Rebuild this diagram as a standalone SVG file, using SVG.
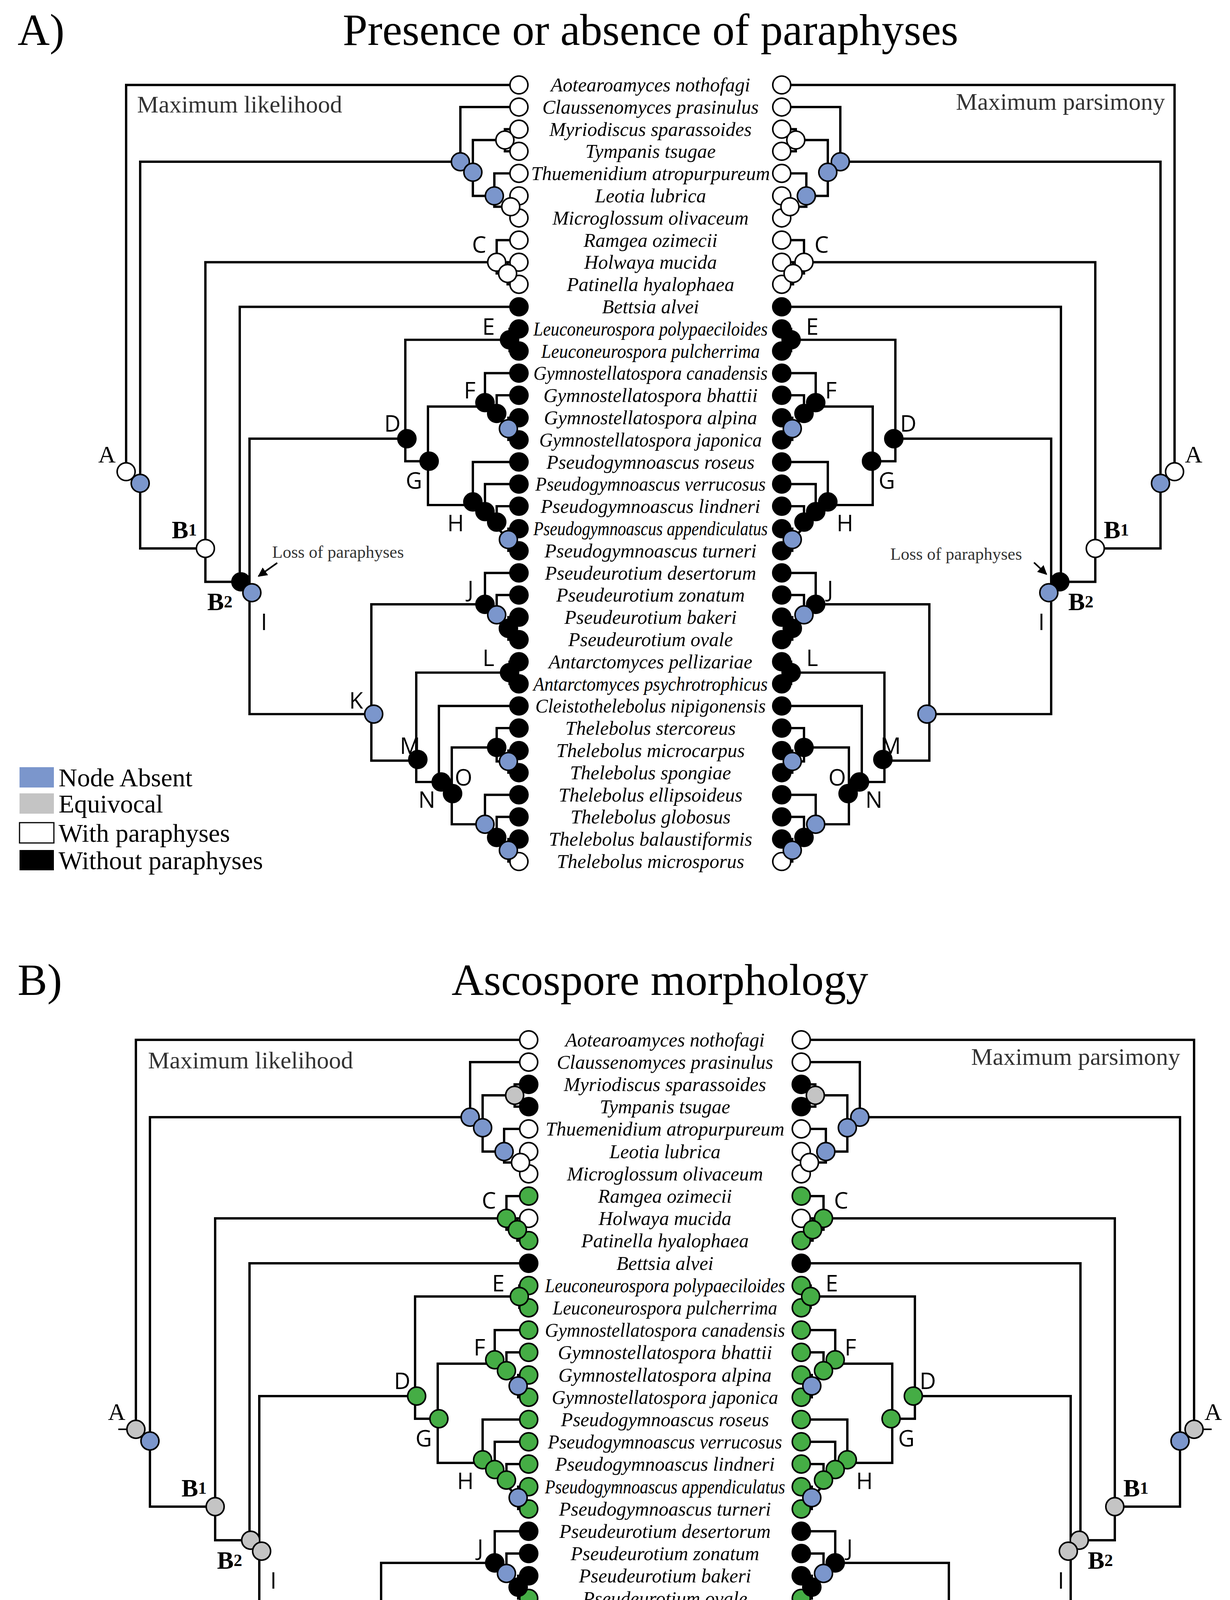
<svg xmlns="http://www.w3.org/2000/svg" width="3150" height="4743" viewBox="0 0 3150 4743">
<style>
.ln{fill:none;stroke:#000;stroke-width:6}
.c{stroke:#000;stroke-width:4}
.w{fill:#fff}.k{fill:#000}.b{fill:#7b96cc}.g{fill:#c4c4c4}.e{fill:#45ad45}
.tx{font-family:"Liberation Serif",serif;font-style:italic;font-size:50px;text-anchor:middle;dominant-baseline:central}
.lb{font-family:"Open Sans","DejaVu Sans",sans-serif;font-size:58px;text-anchor:middle;dominant-baseline:central}
.sr{font-family:"Liberation Serif",serif;font-size:62px;text-anchor:middle;dominant-baseline:central}
.bd{font-family:"Liberation Serif",serif;font-weight:bold;font-size:64px;text-anchor:middle;dominant-baseline:central}
.lg{font-family:"Liberation Serif",serif;font-size:66px;dominant-baseline:central}
.ttl{font-family:"Liberation Serif",serif;font-size:114px;dominant-baseline:central}
.mt{font-family:"Liberation Serif",serif;font-size:62px;dominant-baseline:central}
.lp{font-family:"Liberation Serif",serif;font-size:44px;dominant-baseline:central}
</style>
<defs>
<marker id="ar" viewBox="0 0 10 10" refX="9" refY="5" markerWidth="6" markerHeight="6" orient="auto"><path d="M0 0L10 5L0 10z" fill="#000"/></marker>
<g id="lines" class="ln">
<path d="M1354 2662H348V3659M384 3689V2860H1204M384 3689V3857H551M1204 2860V2719H1354M1204 2860L1236 2887M1236 2887V2804H1318M1354 2776H1318V2833H1354M1236 2887V2948H1291M1291 2948V2890H1354M1291 2948V2976H1333M1354 2948H1333V3005H1354"/>
<path d="M551 3857V3119H1297M1297 3119V3062H1354M1297 3119V3148H1325M1354 3119H1325V3176H1354M551 3857V3943H642M639 3943V3234H1354M642 3943L670 3971M664 3971V3574H1067M664 3971V4284H982"/>
<path d="M1063 3574V3319H1330M1354 3291H1330V3348H1354M1063 3574V3632H1124M1121 3632V3491H1267M1267 3481V3405H1354M1267 3481L1327 3548M1297 3509V3462H1354M1354 3520H1327V3577H1354"/>
<path d="M1121 3632V3745H1236M1236 3737V3634H1354M1236 3737L1327 3834M1267 3762V3691H1354M1297 3789V3748H1354M1354 3806H1327V3863H1354"/>
<path d="M976 4284V4001H1267M1267 4001V3920H1354M1267 4001L1327 4063M1297 4028V3977H1354M1354 4034H1327V4092H1354M976 4284V4404H1095M1091 4401V4177H1330M1354 4149H1330V4206H1354M1091 4401V4459H1155M1149 4459V4263H1354M1155 4459L1184 4489"/>
<path d="M1182 4489V4370H1297M1297 4370V4320H1354M1297 4370V4406H1327M1354 4378H1327V4435H1354M1182 4489V4568H1267M1267 4568V4492H1354M1267 4568L1327 4635M1297 4602V4549H1354M1354 4606H1327V4664H1354"/>
</g>
<g id="circA" class="c">
<circle class="w" cx="1354" cy="2662" r="23"/><circle class="w" cx="1354" cy="2719" r="23"/><circle class="w" cx="1354" cy="2776" r="23"/><circle class="w" cx="1354" cy="2833" r="23"/><circle class="w" cx="1354" cy="2890" r="23"/><circle class="w" cx="1354" cy="2948" r="23"/><circle class="w" cx="1354" cy="3005" r="23"/><circle class="w" cx="1354" cy="3062" r="23"/><circle class="w" cx="1354" cy="3119" r="23"/><circle class="w" cx="1354" cy="3176" r="23"/>
<circle class="k" cx="1354" cy="3234" r="23"/><circle class="k" cx="1354" cy="3291" r="23"/><circle class="k" cx="1354" cy="3348" r="23"/><circle class="k" cx="1354" cy="3405" r="23"/><circle class="k" cx="1354" cy="3462" r="23"/><circle class="k" cx="1354" cy="3520" r="23"/><circle class="k" cx="1354" cy="3577" r="23"/><circle class="k" cx="1354" cy="3634" r="23"/><circle class="k" cx="1354" cy="3691" r="23"/><circle class="k" cx="1354" cy="3748" r="23"/><circle class="k" cx="1354" cy="3806" r="23"/><circle class="k" cx="1354" cy="3863" r="23"/><circle class="k" cx="1354" cy="3920" r="23"/><circle class="k" cx="1354" cy="3977" r="23"/><circle class="k" cx="1354" cy="4034" r="23"/><circle class="k" cx="1354" cy="4092" r="23"/><circle class="k" cx="1354" cy="4149" r="23"/><circle class="k" cx="1354" cy="4206" r="23"/><circle class="k" cx="1354" cy="4263" r="23"/><circle class="k" cx="1354" cy="4320" r="23"/><circle class="k" cx="1354" cy="4378" r="23"/><circle class="k" cx="1354" cy="4435" r="23"/><circle class="k" cx="1354" cy="4492" r="23"/><circle class="k" cx="1354" cy="4549" r="23"/><circle class="k" cx="1354" cy="4606" r="23"/><circle class="w" cx="1354" cy="4664" r="23"/>
<circle class="w" cx="348" cy="3659" r="23"/><circle class="b" cx="384" cy="3689" r="23"/><circle class="b" cx="1204" cy="2860" r="23"/><circle class="b" cx="1236" cy="2887" r="23"/><circle class="w" cx="1318" cy="2804" r="23"/><circle class="b" cx="1291" cy="2948" r="23"/><circle class="w" cx="1333" cy="2976" r="23"/><circle class="w" cx="1297" cy="3119" r="23"/><circle class="w" cx="1325" cy="3148" r="23"/>
<circle class="w" cx="551" cy="3857" r="23"/><circle class="k" cx="642" cy="3943" r="23"/><circle class="b" cx="670" cy="3971" r="23"/><circle class="k" cx="1067" cy="3574" r="23"/><circle class="k" cx="1330" cy="3319" r="23"/><circle class="k" cx="1124" cy="3632" r="23"/><circle class="k" cx="1267" cy="3481" r="23"/><circle class="k" cx="1297" cy="3509" r="23"/><circle class="b" cx="1327" cy="3548" r="23"/>
<circle class="k" cx="1236" cy="3737" r="23"/><circle class="k" cx="1267" cy="3762" r="23"/><circle class="k" cx="1297" cy="3789" r="23"/><circle class="b" cx="1327" cy="3834" r="23"/><circle class="b" cx="982" cy="4284" r="23"/><circle class="k" cx="1267" cy="4001" r="23"/><circle class="b" cx="1297" cy="4028" r="23"/><circle class="k" cx="1327" cy="4063" r="23"/><circle class="k" cx="1330" cy="4177" r="23"/>
<circle class="k" cx="1095" cy="4401" r="23"/><circle class="k" cx="1155" cy="4459" r="23"/><circle class="k" cx="1184" cy="4489" r="23"/><circle class="k" cx="1297" cy="4370" r="23"/><circle class="b" cx="1327" cy="4406" r="23"/><circle class="b" cx="1267" cy="4568" r="23"/><circle class="k" cx="1297" cy="4602" r="23"/><circle class="b" cx="1327" cy="4635" r="23"/>
</g>
<g id="circB" class="c">
<circle class="w" cx="1354" cy="2662" r="23"/><circle class="w" cx="1354" cy="2719" r="23"/><circle class="k" cx="1354" cy="2776" r="23"/><circle class="k" cx="1354" cy="2833" r="23"/><circle class="w" cx="1354" cy="2890" r="23"/><circle class="w" cx="1354" cy="2948" r="23"/><circle class="w" cx="1354" cy="3005" r="23"/><circle class="e" cx="1354" cy="3062" r="23"/><circle class="w" cx="1354" cy="3119" r="23"/><circle class="e" cx="1354" cy="3176" r="23"/>
<circle class="k" cx="1354" cy="3234" r="23"/><circle class="e" cx="1354" cy="3291" r="23"/><circle class="e" cx="1354" cy="3348" r="23"/><circle class="e" cx="1354" cy="3405" r="23"/><circle class="e" cx="1354" cy="3462" r="23"/><circle class="e" cx="1354" cy="3520" r="23"/><circle class="e" cx="1354" cy="3577" r="23"/><circle class="e" cx="1354" cy="3634" r="23"/><circle class="e" cx="1354" cy="3691" r="23"/><circle class="e" cx="1354" cy="3748" r="23"/><circle class="e" cx="1354" cy="3806" r="23"/><circle class="e" cx="1354" cy="3863" r="23"/><circle class="k" cx="1354" cy="3920" r="23"/><circle class="k" cx="1354" cy="3977" r="23"/><circle class="k" cx="1354" cy="4034" r="23"/><circle class="e" cx="1354" cy="4092" r="23"/><circle class="e" cx="1354" cy="4149" r="23"/><circle class="e" cx="1354" cy="4206" r="23"/><circle class="e" cx="1354" cy="4263" r="23"/><circle class="e" cx="1354" cy="4320" r="23"/><circle class="e" cx="1354" cy="4378" r="23"/><circle class="e" cx="1354" cy="4435" r="23"/><circle class="e" cx="1354" cy="4492" r="23"/><circle class="e" cx="1354" cy="4549" r="23"/><circle class="e" cx="1354" cy="4606" r="23"/><circle class="e" cx="1354" cy="4664" r="23"/>
<circle class="g" cx="348" cy="3659" r="23"/><circle class="b" cx="384" cy="3689" r="23"/><circle class="b" cx="1204" cy="2860" r="23"/><circle class="b" cx="1236" cy="2887" r="23"/><circle class="g" cx="1318" cy="2804" r="23"/><circle class="b" cx="1291" cy="2948" r="23"/><circle class="w" cx="1333" cy="2976" r="23"/><circle class="e" cx="1297" cy="3119" r="23"/><circle class="e" cx="1325" cy="3148" r="23"/>
<circle class="g" cx="551" cy="3857" r="23"/><circle class="g" cx="642" cy="3943" r="23"/><circle class="g" cx="670" cy="3971" r="23"/><circle class="e" cx="1067" cy="3574" r="23"/><circle class="e" cx="1330" cy="3319" r="23"/><circle class="e" cx="1124" cy="3632" r="23"/><circle class="e" cx="1267" cy="3481" r="23"/><circle class="e" cx="1297" cy="3509" r="23"/><circle class="b" cx="1327" cy="3548" r="23"/>
<circle class="e" cx="1236" cy="3737" r="23"/><circle class="e" cx="1267" cy="3762" r="23"/><circle class="e" cx="1297" cy="3789" r="23"/><circle class="b" cx="1327" cy="3834" r="23"/><circle class="b" cx="982" cy="4284" r="23"/><circle class="k" cx="1267" cy="4001" r="23"/><circle class="b" cx="1297" cy="4028" r="23"/><circle class="k" cx="1327" cy="4063" r="23"/><circle class="e" cx="1330" cy="4177" r="23"/>
<circle class="e" cx="1095" cy="4401" r="23"/><circle class="e" cx="1155" cy="4459" r="23"/><circle class="e" cx="1184" cy="4489" r="23"/><circle class="e" cx="1297" cy="4370" r="23"/><circle class="b" cx="1327" cy="4406" r="23"/><circle class="b" cx="1267" cy="4568" r="23"/><circle class="e" cx="1297" cy="4602" r="23"/><circle class="b" cx="1327" cy="4635" r="23"/>
</g>
</defs>
<rect width="3150" height="4743" fill="#fff"/>
<text class="ttl" x="45" y="76">A)</text>
<text class="ttl" x="1666" y="76" text-anchor="middle">Presence or absence of paraphyses</text>
<text class="ttl" x="45" y="2508">B)</text>
<text class="ttl" x="1690" y="2508" text-anchor="middle">Ascospore morphology</text>
<g id="connectors">
<use href="#lines" transform="matrix(1 0 0 0.993 -25 -2425.9)"/>
<use href="#lines" transform="matrix(-1 0 0 0.993 3356 -2425.9)"/>
<use href="#lines"/>
<use href="#lines" transform="matrix(-1 0 0 1 3406 0)"/>
<path class="ln" d="M336 1209H303M2995 1209H3028M303 3659H339M3067 3659H3103" style="stroke-width:4"/>
<path d="M710 1441L662 1475" stroke="#000" stroke-width="4" marker-end="url(#ar)"/>
<path d="M2648 1440L2680 1470" stroke="#000" stroke-width="4" marker-end="url(#ar)"/>
</g>
<g id="nodes-A-ML"><use href="#circA" transform="matrix(1 0 0 0.993 -25 -2425.9)"/></g>
<g id="nodes-A-MP"><use href="#circA" transform="matrix(-1 0 0 0.993 3356 -2425.9)"/></g>
<g id="nodes-B-ML"><use href="#circB"/></g>
<g id="nodes-B-MP"><use href="#circB" transform="matrix(-1 0 0 1 3406 0)"/></g>
<g id="taxaA" class="tx">
<text x="1666" y="217">Aotearoamyces nothofagi</text><text x="1666" y="274">Claussenomyces prasinulus</text><text x="1666" y="331">Myriodiscus sparassoides</text><text x="1666" y="387">Tympanis tsugae</text><text x="1666" y="444">Thuemenidium atropurpureum</text><text x="1666" y="501">Leotia lubrica</text><text x="1666" y="558">Microglossum olivaceum</text><text x="1666" y="615">Ramgea ozimecii</text><text x="1666" y="671">Holwaya mucida</text><text x="1666" y="728">Patinella hyalophaea</text><text x="1666" y="785">Bettsia alvei</text><text x="1666" y="842" textLength="600" lengthAdjust="spacingAndGlyphs">Leuconeurospora polypaeciloides</text><text x="1666" y="899" textLength="560" lengthAdjust="spacingAndGlyphs">Leuconeurospora pulcherrima</text><text x="1666" y="955" textLength="600" lengthAdjust="spacingAndGlyphs">Gymnostellatospora canadensis</text><text x="1666" y="1012">Gymnostellatospora bhattii</text><text x="1666" y="1069">Gymnostellatospora alpina</text><text x="1666" y="1126" textLength="570" lengthAdjust="spacingAndGlyphs">Gymnostellatospora japonica</text><text x="1666" y="1183">Pseudogymnoascus roseus</text><text x="1666" y="1239" textLength="590" lengthAdjust="spacingAndGlyphs">Pseudogymnoascus verrucosus</text><text x="1666" y="1296">Pseudogymnoascus lindneri</text><text x="1666" y="1353" textLength="600" lengthAdjust="spacingAndGlyphs">Pseudogymnoascus appendiculatus</text><text x="1666" y="1410">Pseudogymnoascus turneri</text><text x="1666" y="1467">Pseudeurotium desertorum</text><text x="1666" y="1523">Pseudeurotium zonatum</text><text x="1666" y="1580">Pseudeurotium bakeri</text><text x="1666" y="1637">Pseudeurotium ovale</text><text x="1666" y="1694">Antarctomyces pellizariae</text><text x="1666" y="1751" textLength="600" lengthAdjust="spacingAndGlyphs">Antarctomyces psychrotrophicus</text><text x="1666" y="1807" textLength="590" lengthAdjust="spacingAndGlyphs">Cleistothelebolus nipigonensis</text><text x="1666" y="1864">Thelebolus stercoreus</text><text x="1666" y="1921">Thelebolus microcarpus</text><text x="1666" y="1978">Thelebolus spongiae</text><text x="1666" y="2035">Thelebolus ellipsoideus</text><text x="1666" y="2091">Thelebolus globosus</text><text x="1666" y="2148">Thelebolus balaustiformis</text><text x="1666" y="2205">Thelebolus microsporus</text>
</g>
<g id="taxaB" class="tx">
<text x="1703" y="2662">Aotearoamyces nothofagi</text><text x="1703" y="2719">Claussenomyces prasinulus</text><text x="1703" y="2776">Myriodiscus sparassoides</text><text x="1703" y="2833">Tympanis tsugae</text><text x="1703" y="2890">Thuemenidium atropurpureum</text><text x="1703" y="2948">Leotia lubrica</text><text x="1703" y="3005">Microglossum olivaceum</text><text x="1703" y="3062">Ramgea ozimecii</text><text x="1703" y="3119">Holwaya mucida</text><text x="1703" y="3176">Patinella hyalophaea</text><text x="1703" y="3234">Bettsia alvei</text><text x="1703" y="3291" textLength="615" lengthAdjust="spacingAndGlyphs">Leuconeurospora polypaeciloides</text><text x="1703" y="3348" textLength="575" lengthAdjust="spacingAndGlyphs">Leuconeurospora pulcherrima</text><text x="1703" y="3405" textLength="615" lengthAdjust="spacingAndGlyphs">Gymnostellatospora canadensis</text><text x="1703" y="3462">Gymnostellatospora bhattii</text><text x="1703" y="3520">Gymnostellatospora alpina</text><text x="1703" y="3577" textLength="580" lengthAdjust="spacingAndGlyphs">Gymnostellatospora japonica</text><text x="1703" y="3634">Pseudogymnoascus roseus</text><text x="1703" y="3691" textLength="600" lengthAdjust="spacingAndGlyphs">Pseudogymnoascus verrucosus</text><text x="1703" y="3748">Pseudogymnoascus lindneri</text><text x="1703" y="3806" textLength="615" lengthAdjust="spacingAndGlyphs">Pseudogymnoascus appendiculatus</text><text x="1703" y="3863">Pseudogymnoascus turneri</text><text x="1703" y="3920">Pseudeurotium desertorum</text><text x="1703" y="3977">Pseudeurotium zonatum</text><text x="1703" y="4034">Pseudeurotium bakeri</text><text x="1703" y="4092">Pseudeurotium ovale</text><text x="1703" y="4149">Antarctomyces pellizariae</text><text x="1703" y="4206" textLength="615" lengthAdjust="spacingAndGlyphs">Antarctomyces psychrotrophicus</text><text x="1703" y="4263" textLength="600" lengthAdjust="spacingAndGlyphs">Cleistothelebolus nipigonensis</text><text x="1703" y="4320">Thelebolus stercoreus</text><text x="1703" y="4378">Thelebolus microcarpus</text><text x="1703" y="4435">Thelebolus spongiae</text><text x="1703" y="4492">Thelebolus ellipsoideus</text><text x="1703" y="4549">Thelebolus globosus</text><text x="1703" y="4606">Thelebolus balaustiformis</text><text x="1703" y="4664">Thelebolus microsporus</text>
</g>
<g id="labels">
<text class="sr" x="274" y="1163">A</text><text class="sr" x="3057" y="1163">A</text><text class="sr" x="299" y="3614">A</text><text class="sr" x="3107" y="3614">A</text>
<text class="bd" x="472" y="1356">B<tspan font-size="44">1</tspan></text><text class="bd" x="2859" y="1356">B<tspan font-size="44">1</tspan></text><text class="bd" x="497" y="3809">B<tspan font-size="44">1</tspan></text><text class="bd" x="2909" y="3809">B<tspan font-size="44">1</tspan></text>
<text class="bd" x="563" y="1540">B<tspan font-size="44">2</tspan></text><text class="bd" x="2768" y="1540">B<tspan font-size="44">2</tspan></text><text class="bd" x="588" y="3994">B<tspan font-size="44">2</tspan></text><text class="bd" x="2818" y="3994">B<tspan font-size="44">2</tspan></text>
<g class="lb">
<text x="1227" y="624">C</text><text x="2104" y="624">C</text><text x="1252" y="3071">C</text><text x="2154" y="3071">C</text>
<text x="1005" y="1082">D</text><text x="2326" y="1082">D</text><text x="1030" y="3533">D</text><text x="2376" y="3533">D</text>
<text x="1251" y="834">E</text><text x="2080" y="834">E</text><text x="1276" y="3283">E</text><text x="2130" y="3283">E</text>
<text x="1203" y="997">F</text><text x="2128" y="997">F</text><text x="1228" y="3447">F</text><text x="2178" y="3447">F</text>
<text x="1060" y="1228">G</text><text x="2271" y="1228">G</text><text x="1085" y="3680">G</text><text x="2321" y="3680">G</text>
<text x="1167" y="1337">H</text><text x="2164" y="1337">H</text><text x="1192" y="3789">H</text><text x="2214" y="3789">H</text>
<text x="676" y="1590">I</text><text x="2667" y="1590">I</text><text x="700" y="4044">I</text><text x="2717" y="4044">I</text>
<text x="1205" y="1506">J</text><text x="2126" y="1506">J</text><text x="1230" y="3960">J</text><text x="2176" y="3960">J</text>
<text x="912" y="1791">K</text><text x="937" y="4247">K</text>
<text x="1251" y="1682">L</text><text x="2080" y="1682">L</text><text x="1276" y="4137">L</text><text x="2130" y="4137">L</text>
<text x="1050" y="1907">M</text><text x="2281" y="1907">M</text><text x="1075" y="4363">M</text><text x="2331" y="4363">M</text>
<text x="1093" y="2045">N</text><text x="2238" y="2045">N</text><text x="1118" y="4502">N</text><text x="2288" y="4502">N</text>
<text x="1187" y="1988">O</text><text x="2144" y="1988">O</text><text x="1212" y="4445">O</text><text x="2194" y="4445">O</text>
</g>
<text class="mt" x="351" y="267" fill="#333">Maximum likelihood</text>
<text class="mt" x="2448" y="260" fill="#333">Maximum parsimony</text>
<text class="mt" x="379" y="2714" fill="#333">Maximum likelihood</text>
<text class="mt" x="2487" y="2705" fill="#333">Maximum parsimony</text>
<text class="lp" x="697" y="1413" fill="#333">Loss of paraphyses</text>
<text class="lp" x="2280" y="1418" fill="#333">Loss of paraphyses</text>
</g>
<g id="legendA">
<rect class="b" x="50" y="1964" width="88" height="52"/><rect class="g" x="50" y="2031" width="88" height="52"/><rect x="50" y="2106" width="88" height="52" fill="#fff" stroke="#000" stroke-width="3"/><rect class="k" x="50" y="2176" width="88" height="52"/>
<text class="lg" x="150" y="1990">Node Absent</text><text class="lg" x="150" y="2057">Equivocal</text><text class="lg" x="150" y="2132">With paraphyses</text><text class="lg" x="150" y="2202">Without paraphyses</text>
</g>
<g id="legendB">
<rect class="b" x="50" y="4381" width="88" height="52"/><rect class="g" x="50" y="4454" width="88" height="52"/><rect x="50" y="4524" width="88" height="52" fill="#fff" stroke="#000" stroke-width="3"/><rect class="e" x="50" y="4596" width="88" height="52"/><rect class="k" x="50" y="4669" width="88" height="52"/>
<text class="lg" x="150" y="4407">Node Absent</text><text class="lg" x="150" y="4480">Equivocal</text><text class="lg" x="150" y="4550">Cylindrical-fusiform-acicular</text><text class="lg" x="150" y="4622">Ellipsoid-ovoid-fusoid</text><text class="lg" x="150" y="4695">Globose-subglobose</text>
</g>
</svg>
